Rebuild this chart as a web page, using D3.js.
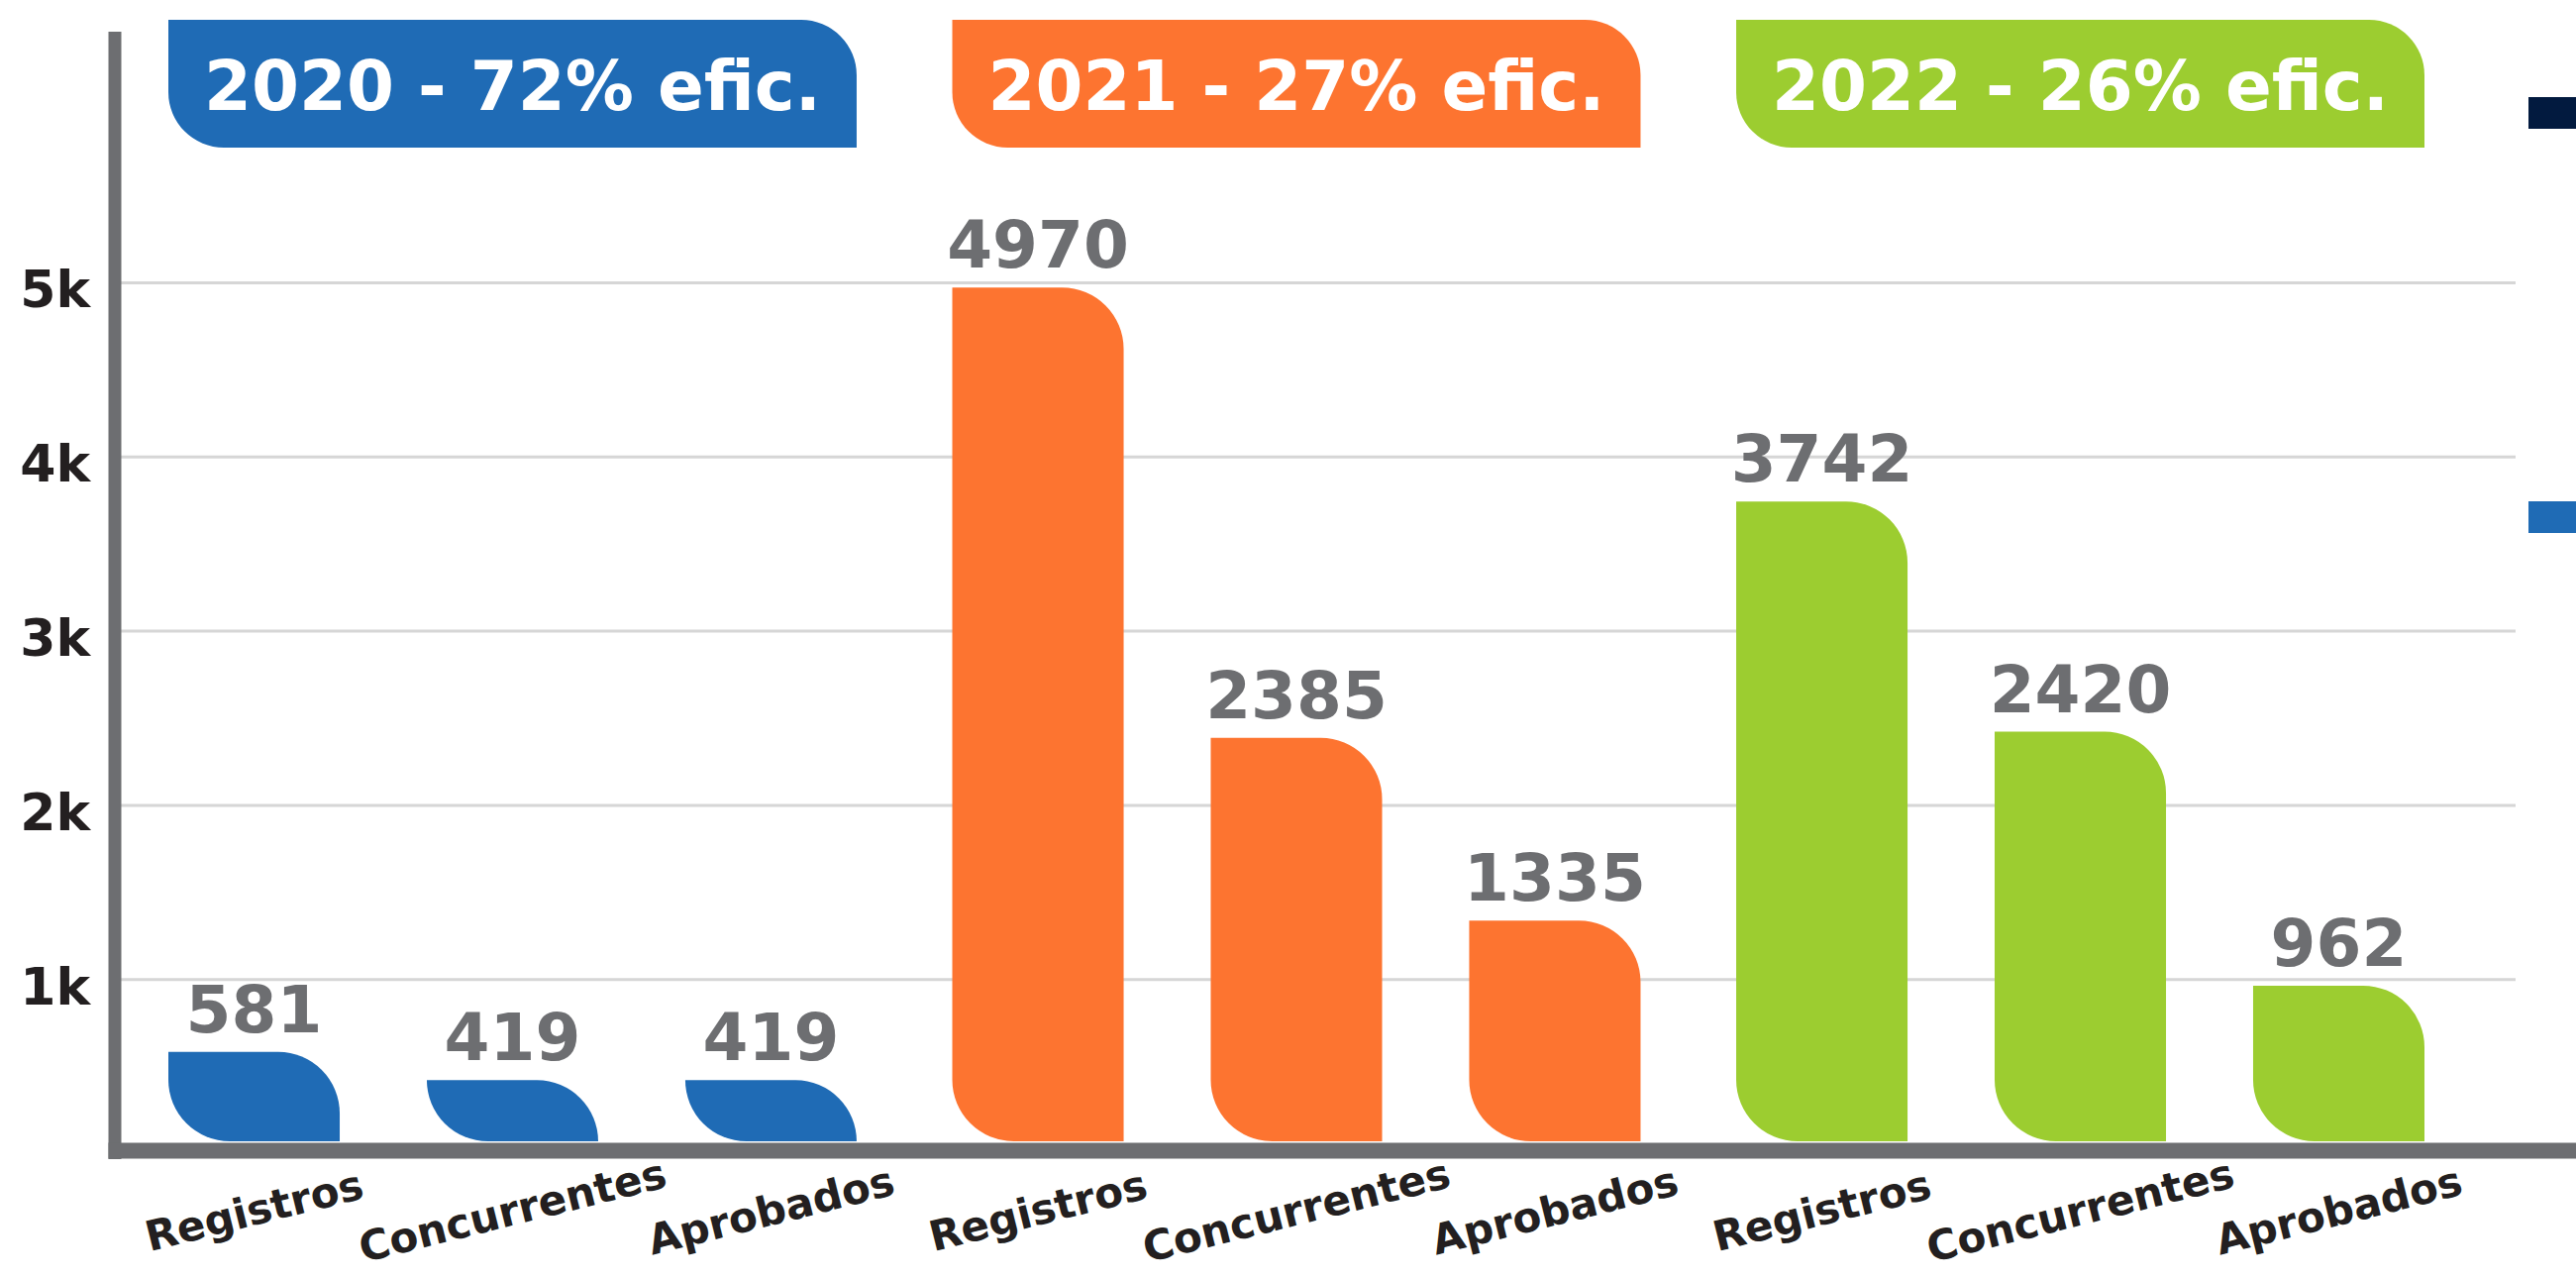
<!DOCTYPE html>
<html>
<head>
<meta charset="utf-8">
<script src="https://cdn.jsdelivr.net/npm/d3@7"></script>
<style>
  html, body { margin: 0; padding: 0; background: #ffffff; }
  svg { display: block; }
  text { font-family: "DejaVu Sans", sans-serif; font-weight: bold; }
</style>
</head>
<body>
<svg id="chart" width="2601" height="1291"></svg>
<script>
// ---- Data ----
const years = ["2020", "2021", "2022"];
const efficiency = ["72%", "27%", "26%"];
const metrics = ["Registros", "Concurrentes", "Aprobados"];
const registros = [581, 4970, 3742];
const concurrentes = [419, 2385, 2420];
const aprobados = [419, 1335, 962];
const yTicks = [1000, 2000, 3000, 4000, 5000];
const yearColors = ["#1f6bb5", "#fd7430", "#9ccd30"];
const legendColors = ["#021a3f", "#1f6bb5"];

// ---- Layout ----
const W = 2601, H = 1291;
const svg = d3.select("#chart");

const plotLeft = 116, plotRight = 2540;
const y = d3.scaleLinear().domain([0, 5000]).range([1164, 285]);
const barBase = 1152;

const x0 = d3.scaleBand().domain(years).range([170, 2448]).paddingInner(0.122).paddingOuter(0);
const x1 = d3.scaleBand().domain(metrics).range([0, x0.bandwidth()]).paddingInner(0.337).paddingOuter(0);

const rows = [];
years.forEach((yr, i) => {
  const vals = [registros[i], concurrentes[i], aprobados[i]];
  metrics.forEach((m, j) => rows.push({ year: yr, idx: i, metric: m, value: vals[j] }));
});

// leaf shape: square top-left & bottom-right, rounded top-right & bottom-left
function leaf(x, top, w, bottom, rMax) {
  const h = bottom - top;
  const r = Math.min(rMax, h, w / 2);
  return `M${x},${top} H${x + w - r} A${r},${r} 0 0 1 ${x + w},${top + r} V${bottom} H${x + r} A${r},${r} 0 0 1 ${x},${bottom - r} Z`;
}

// gridlines + y labels
const yAxis = d3.axisLeft(y)
  .tickValues(yTicks)
  .tickSize(-(plotRight - plotLeft))
  .tickPadding(25)
  .tickFormat(d => (d / 1000) + "k");

const gy = svg.append("g").attr("transform", `translate(${plotLeft},0)`).call(yAxis);
gy.select(".domain").remove();
gy.selectAll(".tick line").attr("stroke", "#d6d6d6").attr("stroke-width", 3);
gy.selectAll(".tick text")
  .attr("fill", "#231f20")
  .attr("font-size", 52)
  .attr("dy", "0.48em")
  .style("font-family", "'DejaVu Sans', sans-serif")
  .style("font-weight", "bold");

// header boxes
const headers = svg.append("g");
years.forEach((yr, i) => {
  const bx = x0(yr), bw = x0.bandwidth();
  headers.append("path")
    .attr("d", leaf(bx, 20, bw, 149, 56))
    .attr("fill", yearColors[i]);
  headers.append("text")
    .attr("x", bx + bw / 2)
    .attr("y", 111)
    .attr("text-anchor", "middle")
    .attr("fill", "#ffffff")
    .attr("font-size", 69)
    .text(`${yr} - ${efficiency[i]} efic.`);
});

// bars
const bars = svg.append("g");
rows.forEach(d => {
  const bx = x0(d.year) + x1(d.metric);
  const bw = x1.bandwidth();
  bars.append("path")
    .attr("d", leaf(bx, y(d.value), bw, barBase, 62))
    .attr("fill", yearColors[d.idx]);
  bars.append("text")
    .attr("x", bx + bw / 2)
    .attr("y", y(d.value) - 20)
    .attr("text-anchor", "middle")
    .attr("fill", "#6d6e71")
    .attr("font-size", 66)
    .text(d.value);
});

// axes lines
svg.append("line")
  .attr("x1", plotLeft).attr("x2", plotLeft)
  .attr("y1", 32).attr("y2", 1170)
  .attr("stroke", "#6d6e71").attr("stroke-width", 13);
svg.append("line")
  .attr("x1", plotLeft - 6.5).attr("x2", W)
  .attr("y1", 1161.5).attr("y2", 1161.5)
  .attr("stroke", "#6d6e71").attr("stroke-width", 16);

// x labels
const xl = svg.append("g");
rows.forEach(d => {
  const cx = x0(d.year) + x1(d.metric) + x1.bandwidth() / 2;
  const cy = 1222;
  xl.append("text")
    .attr("transform", `translate(${cx},${cy}) rotate(-14)`)
    .attr("text-anchor", "middle")
    .attr("dominant-baseline", "central")
    .attr("fill", "#231f20")
    .attr("font-size", 42)
    .text(d.metric);
});

// cut-off legend swatches at right edge
const legendY = [98, 506];
legendColors.forEach((c, i) => {
  svg.append("rect")
    .attr("x", 2553).attr("y", legendY[i])
    .attr("width", 60).attr("height", 32)
    .attr("fill", c);
});
</script>
</body>
</html>
